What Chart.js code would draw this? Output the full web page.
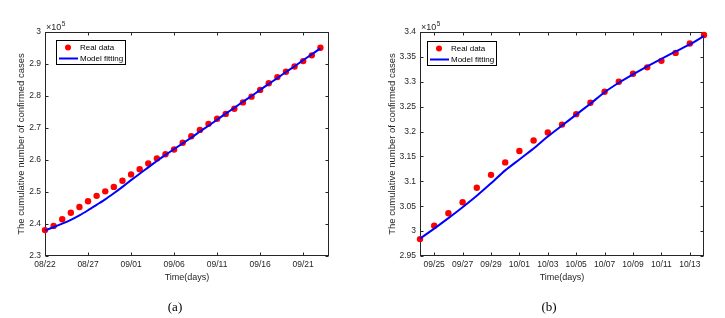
<!DOCTYPE html>
<html>
<head>
<meta charset="utf-8">
<script src="https://cdn.jsdelivr.net/npm/chart.js@4/dist/chart.umd.min.js"></script>
<style>
html,body{margin:0;padding:0;background:#fff;}
body{width:725px;height:318px;position:relative;overflow:hidden;}
.wrap{position:absolute;top:0;height:318px;}
#wa{left:0;width:360px;}
#wb{left:360px;width:365px;}
.cap{position:absolute;top:299px;line-height:15px;font-size:13px;font-family:"Liberation Serif","Times New Roman",serif;color:#000;transform:translateX(-50%);white-space:nowrap;}
</style>
</head>
<body>
<div class="wrap" id="wa"><canvas id="ca" width="360" height="318"></canvas></div>
<div class="wrap" id="wb"><canvas id="cb" width="365" height="318"></canvas></div>
<div class="cap" style="left:175px">(a)</div>
<div class="cap" style="left:549px">(b)</div>
<script>
// ---------- data (values in units of 10^5 cases) ----------
const datesA = ['08/22','08/23','08/24','08/25','08/26','08/27','08/28','08/29','08/30','08/31',
  '09/01','09/02','09/03','09/04','09/05','09/06','09/07','09/08','09/09','09/10','09/11','09/12',
  '09/13','09/14','09/15','09/16','09/17','09/18','09/19','09/20','09/21','09/22','09/23'];
const realA = [2.381,2.394,2.415,2.435,2.453,2.471,2.488,2.502,2.516,2.535,
  2.555,2.571,2.589,2.605,2.618,2.633,2.654,2.674,2.694,2.713,2.729,2.744,
  2.760,2.780,2.798,2.819,2.840,2.859,2.876,2.892,2.909,2.927,2.951];
const modelA = [2.380,2.390,2.401,2.413,2.427,2.443,2.460,2.477,2.496,2.516,
  2.537,2.557,2.577,2.597,2.616,2.634,2.652,2.670,2.689,2.707,2.726,2.745,
  2.763,2.782,2.800,2.819,2.838,2.856,2.875,2.893,2.912,2.930,2.949];
const xTicksA = ['08/22','08/27','09/01','09/06','09/11','09/16','09/21'];
const yTicksA = [2.3,2.4,2.5,2.6,2.7,2.8,2.9,3.0];

const datesB = ['09/24','09/25','09/26','09/27','09/28','09/29','09/30',
  '10/01','10/02','10/03','10/04','10/05','10/06','10/07','10/08','10/09','10/10','10/11','10/12','10/13','10/14'];
const realB = [2.984,3.011,3.036,3.058,3.087,3.113,3.138,
  3.161,3.182,3.198,3.214,3.235,3.258,3.280,3.300,3.316,3.329,3.342,3.358,3.377,3.394];
const modelB = [2.985,3.005,3.026,3.048,3.071,3.096,3.122,
  3.144,3.166,3.190,3.212,3.234,3.256,3.279,3.298,3.315,3.331,3.346,3.361,3.375,3.392];
const xTicksB = ['09/25','09/27','09/29','10/01','10/03','10/05','10/07','10/09','10/11','10/13'];
const yTicksB = [2.95,3.0,3.05,3.1,3.15,3.2,3.25,3.3,3.35,3.4];

const seriesNames = ['Real data','Model fitting'];
const xTitle = 'Time(days)';
const yTitle = 'The cumulative number of confirmed cases';
const exponent = '5';

// ---------- styling ----------
const FONT = '"Liberation Sans", Arial, Helvetica, sans-serif';
const AX = '#262626';
Chart.defaults.font.family = FONT;
Chart.defaults.color = AX;

const framePlugin = {
  id: 'mframe',
  beforeDatasetsDraw(chart, args, opts) {
    const {ctx, chartArea: a} = chart;
    const x = chart.scales.x, y = chart.scales.y;
    ctx.save();
    ctx.strokeStyle = AX; ctx.lineWidth = 1;
    const L = Math.round(a.left) + 0.5, R = Math.round(a.right) - 0.5;
    const T = Math.round(a.top) + 0.5, B = Math.round(a.bottom) - 0.5;
    ctx.strokeRect(L, T, R - L, B - T);
    ctx.beginPath();
    const tl = 3;
    x.ticks.forEach(t => {
      const px = Math.round(x.getPixelForValue(t.value)) + 0.5;
      ctx.moveTo(px, B); ctx.lineTo(px, B - tl);
      ctx.moveTo(px, T); ctx.lineTo(px, T + tl);
    });
    y.ticks.forEach(t => {
      const py = Math.round(y.getPixelForValue(t.value)) + 0.5;
      ctx.moveTo(L, py); ctx.lineTo(L + tl, py);
      ctx.moveTo(R, py); ctx.lineTo(R - tl, py);
    });
    ctx.stroke();
    ctx.fillStyle = AX;
    ctx.textAlign = 'left'; ctx.textBaseline = 'alphabetic';
    ctx.font = '9px ' + FONT;
    const base = a.top - 2;
    ctx.fillText('\u00d710', a.left + 1, base);
    const w = ctx.measureText('\u00d710').width;
    ctx.font = '6.5px ' + FONT;
    ctx.fillText(exponent, a.left + 1.5 + w, base - 4.5);
    ctx.restore();
  },
  afterDatasetsDraw(chart, args, opts) {
    const {ctx, chartArea: a} = chart;
    const bx = Math.round(a.left + opts.dx) + 0.5, by = Math.round(a.top + opts.dy) + 0.5;
    const w = 69, h = 24;
    ctx.save();
    ctx.fillStyle = '#fff';
    ctx.fillRect(bx, by, w, h);
    ctx.strokeStyle = '#000'; ctx.lineWidth = 1;
    ctx.strokeRect(bx, by, w, h);
    const ds = chart.data.datasets;
    ctx.fillStyle = ds[0].pointBackgroundColor;
    ctx.beginPath(); ctx.arc(bx + 11.5, by + 7, 3, 0, Math.PI * 2); ctx.fill();
    ctx.strokeStyle = ds[1].borderColor; ctx.lineWidth = 2;
    ctx.beginPath(); ctx.moveTo(bx + 2.5, by + 18); ctx.lineTo(bx + 21.5, by + 18); ctx.stroke();
    ctx.fillStyle = '#000';
    ctx.font = '8px ' + FONT;
    ctx.textAlign = 'left'; ctx.textBaseline = 'middle';
    ctx.fillText(ds[0].label, bx + 23.5, by + 7);
    ctx.fillText(ds[1].label, bx + 23.5, by + 18);
    ctx.restore();
  }
};

function fmt(v) { return String(+Number(v).toFixed(2)); }

function makeChart(id, dates, real, model, xTicks, yTicks, xMax, yWidth, padRight, yTitlePad, legendPos) {
  return new Chart(document.getElementById(id), {
    type: 'scatter',
    data: {
      datasets: [
        {
          label: seriesNames[0],
          data: real.map((v, i) => ({x: i, y: v})),
          showLine: false,
          pointRadius: 3.2,
          pointBackgroundColor: '#ff0000',
          pointBorderColor: '#ff0000',
          pointBorderWidth: 0,
          clip: false,
          order: 2
        },
        {
          label: seriesNames[1],
          data: model.map((v, i) => ({x: i, y: v})),
          showLine: true,
          borderColor: '#0000ff',
          borderWidth: 2,
          pointRadius: 0,
          fill: false,
          tension: 0.2,
          clip: false,
          order: 1
        }
      ]
    },
    options: {
      responsive: false,
      animation: false,
      events: [],
      layout: {padding: {left: 0, right: padRight, top: 32, bottom: 35}},
      plugins: {legend: {display: false}, tooltip: {enabled: false}, mframe: legendPos},
      scales: {
        x: {
          type: 'linear',
          min: 0,
          max: xMax,
          afterBuildTicks: s => { s.ticks = xTicks.map(l => ({value: dates.indexOf(l)})); },
          afterFit: s => { s.height = 27; },
          ticks: {callback: v => dates[v] ?? '', autoSkip: false, maxRotation: 0, minRotation: 0, padding: 4, color: AX, font: {size: 8.5}},
          grid: {display: false, drawTicks: false, tickLength: 0},
          border: {display: false},
          title: {display: true, text: xTitle, color: AX, font: {size: 9}, padding: 0}
        },
        y: {
          type: 'linear',
          min: yTicks[0],
          max: yTicks[yTicks.length - 1],
          afterBuildTicks: s => { s.ticks = yTicks.map(v => ({value: v})); },
          afterFit: s => { s.width = yWidth; },
          ticks: {callback: v => fmt(v), padding: 4, color: AX, font: {size: 8.5}},
          grid: {display: false, drawTicks: false, tickLength: 0},
          border: {display: false},
          title: {display: true, text: yTitle, color: AX, font: {size: 9.5}, padding: {top: yTitlePad, bottom: 0}}
        }
      }
    },
    plugins: [framePlugin]
  });
}

makeChart('ca', datesA, realA, modelA, xTicksA, yTicksA, datesA.length, 45, 31, 15.3, {dx: 11, dy: 8});
makeChart('cb', datesB, realB, modelB, xTicksB, yTicksB, datesB.length - 1, 60, 21, 26.7, {dx: 7, dy: 9});
</script>
</body>
</html>
